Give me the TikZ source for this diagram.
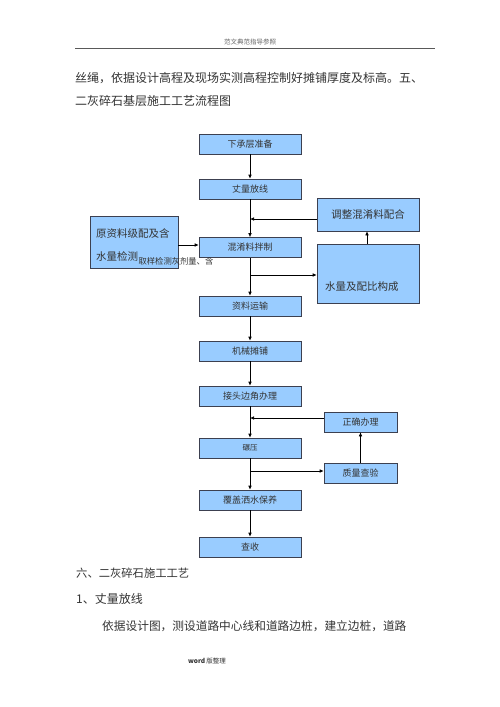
\documentclass[tikz,border=0pt]{standalone}
\usepackage{fontspec}
\newfontfamily\cjk{Noto Sans CJK SC}
\usetikzlibrary{arrows.meta}
\definecolor{boxblue}{HTML}{99CCFF}
\definecolor{boxline}{HTML}{3C4050}
\definecolor{txt}{HTML}{333333}
\tikzset{
  flowbox/.style={draw=boxline, line width=0.6pt, fill=boxblue, minimum width=102pt, minimum height=20pt, inner sep=0pt, font=\cjk\fontsize{9}{9}\selectfont, text=txt},
  sidebox/.style={draw=boxline, line width=0.6pt, fill=boxblue, inner sep=0pt, font=\cjk\fontsize{10.5}{10.5}\selectfont, text=txt},
  arr/.style={draw=black, line width=0.6pt, -{Latex[length=4pt,width=3.5pt]}},
  plain/.style={draw=black, line width=0.6pt},
  body/.style={anchor=west, inner sep=0pt, font=\cjk\fontsize{12}{12}\selectfont, text=txt},
}
\begin{document}
\begin{tikzpicture}[x=1pt,y=-1pt]
\useasboundingbox (0,0) rectangle (500,707);
\fill[white] (0,0) rectangle (500,707);
% header
\node[inner sep=0pt, font=\cjk\fontsize{6.5}{6.5}\selectfont, text=black!60] (hdr) at (250,42) {范文典范指导参照};
\draw[black!65, line width=0.8pt] (75,48) coordinate (hl) -- (435,48) coordinate (hr);
% body text
\node[body] (t1) at (75,78) {丝绳，依据设计高程及现场实测高程控制好摊铺厚度及标高。五、};
\node[body] (t2) at (75,101) {二灰碎石基层施工工艺流程图};
% main column
\node[flowbox] (a1) at (250,144) {下承层准备};
\node[flowbox] (a2) at (250,189) {丈量放线};
\node[flowbox] (a3) at (250,247.5) {混淆料拌制};
\node[flowbox] (a4) at (250,306) {资料运输};
\node[flowbox] (a5) at (250,351) {机械摊铺};
\node[flowbox] (a6) at (250,396) {接头边角办理};
\node[flowbox, font=\cjk\fontsize{7.5}{7.5}\selectfont] (a7) at (250,448) {碾压};
\node[flowbox] (a8) at (250,500) {覆盖洒水保养};
\node[flowbox] (a9) at (250,547) {查收};
% side boxes
\node[sidebox, minimum width=102pt, minimum height=33pt] (b1) at (368,214.5) {调整混淆料配合};
\node[sidebox, minimum width=102pt, minimum height=59pt] (b2) at (368,273.5) {};
\node[inner sep=0pt, anchor=west, font=\cjk\fontsize{10.5}{10.5}\selectfont, text=txt] (b2t) at (325,287) {水量及配比构成};
\node[sidebox, minimum width=88pt, minimum height=52pt] (L) at (134,242) {};
\node[inner sep=0pt, anchor=west, font=\cjk\fontsize{10.5}{10.5}\selectfont, text=txt] (Lt1) at (96,233) {原资料级配及含};
\node[inner sep=0pt, anchor=west, font=\cjk\fontsize{10.5}{10.5}\selectfont, text=txt] (Lt2) at (96,256) {水量检测};
\node[inner sep=0pt, anchor=west, font=\cjk\fontsize{8.3}{8.3}\selectfont, text=txt] (Lt3) at (Lt2.east |- 0,261) {取样检测灰剂量、含};
\node[flowbox, minimum width=73pt] (c1) at (360.5,422) {正确办理};
\node[flowbox, minimum width=73pt] (c2) at (360.5,473) {质量查验};
% junction coordinates
\coordinate (j1) at (250,219);
\coordinate (j2) at (250,275);
\coordinate (j3) at (250,418);
\coordinate (j4) at (250,471);
% connectors
\draw[arr] (a1) -- (a2);
\draw[arr] (a2) -- (a3);
\draw[arr] (b1.west |- j1) -- (j1);
\draw[arr] (L.east |- 0,245) -- (a3.west |- 0,245);
\draw[arr] (a3) -- (a4);
\draw[arr] (j2) -- (j2 -| b2.west);
\draw[arr] (b2.north -| 367,0) -- (b1.south -| 367,0);
\draw[arr] (a4) -- (a5);
\draw[arr] (a5) -- (a6);
\draw[arr] (a6) -- (a7);
\draw[arr] (c1.west |- j3) -- (j3);
\draw[arr] (a7) -- (a8);
\draw[arr] (j4) -- (j4 -| c2.west);
\draw[arr] (c2) -- (c1);
\draw[arr] (a8) -- (a9);
% lower text
\node[body, font=\cjk\fontsize{11.3}{11.3}\selectfont] (t3) at (76,573) {六、二灰碎石施工工艺};
\node[body] (t4) at (76,599) {1、丈量放线};
\node[body, font=\cjk\fontsize{11.7}{11.7}\selectfont] (t5) at (102,626) {依据设计图，测设道路中心线和道路边桩，建立边桩，道路};
\node[inner sep=0pt, font=\cjk\fontsize{6.5}{6.5}\selectfont, text=black!80] (ft) at (207,661) {\textbf{word}\,版整理};
\end{tikzpicture}
\end{document}
